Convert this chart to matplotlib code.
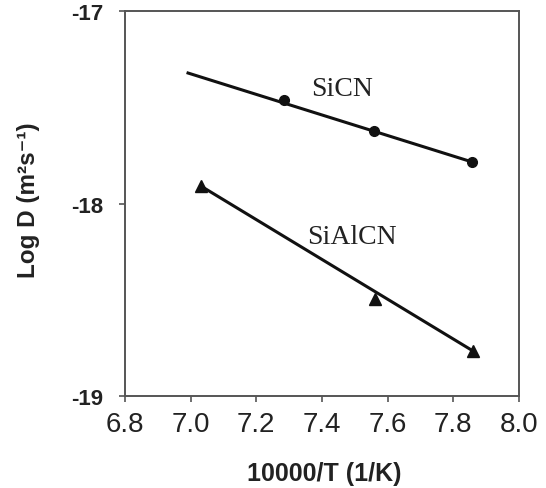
#!/usr/bin/env python3
"""Arrhenius plot of diffusion coefficients for SiCN and SiAlCN."""

import matplotlib

matplotlib.use("Agg")
import matplotlib.pyplot as plt

sicn_x = [7.284, 7.558, 7.857]
sicn_y = [-17.462, -17.623, -17.784]
sialcn_x = [7.031, 7.561, 7.860]
sialcn_y = [-17.909, -18.496, -18.766]

# fitted lines (end points)
sicn_fit_x = [6.992, 7.857]
sicn_fit_y = [-17.322, -17.784]
sialcn_fit_x = [7.031, 7.860]
sialcn_fit_y = [-17.909, -18.766]

x_ticks = [6.8, 7.0, 7.2, 7.4, 7.6, 7.8, 8.0]
y_ticks = [-19, -18, -17]

sans = ["Liberation Sans", "DejaVu Sans"]

fig = plt.figure(figsize=(5.46, 4.89), dpi=100)
ax = fig.add_axes([0.2289, 0.1881, 0.7216, 0.7873])

ax.plot(sicn_fit_x, sicn_fit_y, color="#111111", linewidth=2.2)
ax.plot(sialcn_fit_x, sialcn_fit_y, color="#111111", linewidth=2.2)
ax.plot(sicn_x, sicn_y, "o", color="#111111", markersize=7, linestyle="none")
ax.plot(sialcn_x, sialcn_y, "^", color="#111111", markersize=9, linestyle="none")

ax.text(7.461, -17.405, "SiCN", family="Liberation Serif", fontsize=20,
        ha="center", va="center", color="#222222")
ax.text(7.491, -18.169, "SiAlCN", family="Liberation Serif", fontsize=20,
        ha="center", va="center", color="#222222")

ax.set_xlim(6.8, 8.0)
ax.set_ylim(-19, -17)
ax.set_xticks(x_ticks)
ax.set_xticklabels([f"{v:.1f}" for v in x_ticks], family=sans,
                   fontsize=20, color="#222222")
ax.set_yticks(y_ticks)
ax.set_yticklabels([str(v) for v in y_ticks], family=sans,
                   fontsize=16, fontweight="bold", color="#222222")
ax.tick_params(axis="x", direction="out", length=4.5, width=1.2,
               color="#555555", pad=6)
ax.tick_params(axis="y", direction="out", length=4.5, width=1.2,
               color="#555555", pad=11)

for spine in ax.spines.values():
    spine.set_color("#555555")
    spine.set_linewidth(1.4)

ax.set_xlabel("10000/T (1/K)", family=sans, fontsize=18,
              fontweight="bold", color="#222222")
ax.set_ylabel("Log D (m\u00b2s\u207b\u00b9)", family=sans,
              fontsize=17.5, fontweight="bold", color="#222222")
ax.xaxis.set_label_coords(0.505, -0.168)
ax.yaxis.set_label_coords(-0.216, 0.51)

fig.savefig("out.png", dpi=100)
